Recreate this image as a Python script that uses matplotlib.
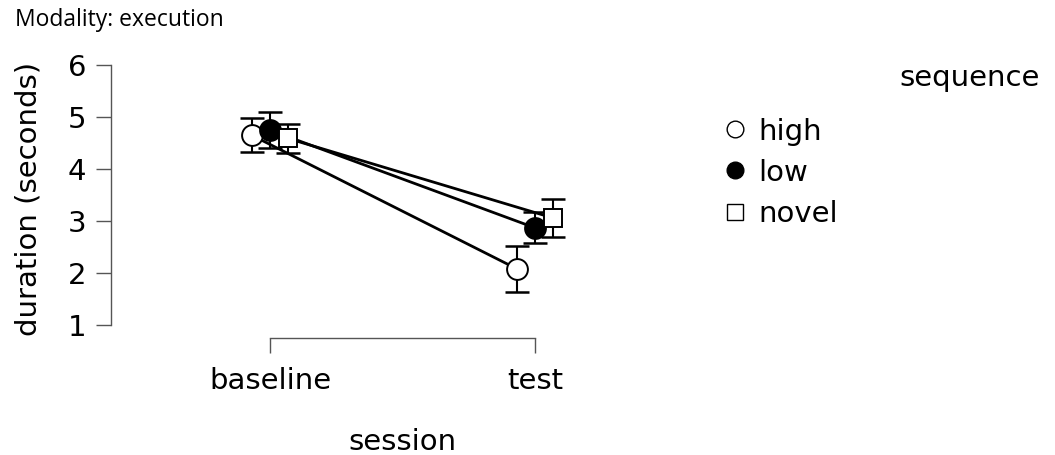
import numpy as np
import matplotlib.pyplot as plt

# data
sessions = ["baseline", "test"]
groups = ["high", "low", "novel"]
means = {
    "high": [4.65, 2.08],
    "low": [4.75, 2.87],
    "novel": [4.59, 3.06],
}
errs = {
    "high": [0.33, 0.44],
    "low": [0.35, 0.30],
    "novel": [0.28, 0.37],
}

styles = {
    "high": dict(marker="o", mfc="white"),
    "low": dict(marker="o", mfc="black"),
    "novel": dict(marker="s", mfc="white"),
}
dodge = {"high": -0.068, "low": 0.0, "novel": 0.068}

plt.rcParams["font.family"] = "DejaVu Sans"
fig = plt.figure(figsize=(10.55, 4.55), dpi=100)
ax = fig.add_axes([111 / 1055, 1 - 338 / 455, (694 - 111) / 1055, (338 - 60) / 455])

x = np.arange(len(sessions))
handles = []
for g in groups:
    xs = x + dodge[g]
    ax.plot(xs, means[g], color="black", lw=2.0, zorder=2)
    ax.errorbar(xs, means[g], yerr=errs[g], fmt="none", ecolor="black",
                elinewidth=1.5, capsize=8.5, capthick=1.8, zorder=3)
    ms = 15 if styles[g]["marker"] == "o" else 13.5
    ax.plot(xs, means[g], ls="none", marker=styles[g]["marker"], ms=ms,
            mfc=styles[g]["mfc"], mec="black", mew=1.4, zorder=4)
    h, = ax.plot([], [], ls="none", marker=styles[g]["marker"],
                 ms=12 if g != "novel" else 11, mfc=styles[g]["mfc"],
                 mec="black", mew=1.0, label=g)
    handles.append(h)

ax.set_xlim(-0.6, 1.6)
ax.set_ylim(0.75, 6.1)
ax.set_yticks([1, 2, 3, 4, 5, 6])
ax.set_xticks(x)
ax.set_xticklabels(sessions)
for s in ["top", "right"]:
    ax.spines[s].set_visible(False)
ax.spines["left"].set_bounds(1, 6)
ax.spines["bottom"].set_bounds(0, 1)
for s in ["left", "bottom"]:
    ax.spines[s].set_color("#555555")
    ax.spines[s].set_linewidth(1.0)
ax.tick_params(axis="both", length=11, width=1.0, color="#555555",
               labelsize=21, pad=7)
ax.tick_params(axis="x", pad=10)
ax.set_ylabel("duration (seconds)", fontsize=21, labelpad=18)
ax.set_xlabel("session", fontsize=21, labelpad=24)

fig.text(15 / 1055, 1 - 20 / 455, "Modality: execution", fontsize=16.5,
         family="Open Sans", va="center", ha="left")
fig.text(1040 / 1055, 1 - 78 / 455, "sequence", fontsize=21, ha="right", va="center")
fig.legend(handles=handles, loc="upper left", bbox_to_anchor=(712 / 1055, 1 - 103 / 455),
           frameon=False, fontsize=21, handlelength=0.6, handletextpad=0.5,
           labelspacing=0.45, borderpad=0)

fig.savefig("out.png", dpi=100)
